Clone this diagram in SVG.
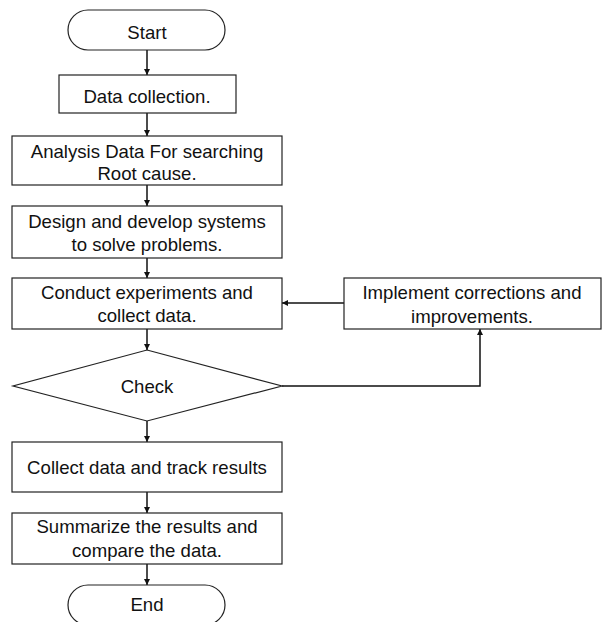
<svg xmlns="http://www.w3.org/2000/svg" width="602" height="622" viewBox="0 0 602 622">
<style>
.n{fill:#fff;stroke:#222;stroke-width:1.2}
.t{font-family:"Liberation Sans",Arial,sans-serif;font-size:18.6px;fill:#111;text-anchor:middle}
.c{fill:none;stroke:#111;stroke-width:1.5}
</style>
<defs>
<marker id="a" viewBox="0 0 10 10" refX="10" refY="5" markerWidth="6" markerHeight="6" markerUnits="userSpaceOnUse" orient="auto">
<path d="M0,0 L10,5 L0,10 z" fill="#111"/>
</marker>
</defs>
<rect width="602" height="622" fill="#fff"/>
<g id="connectors">
<line class="c" x1="147" y1="50" x2="147" y2="75" marker-end="url(#a)"/>
<line class="c" x1="147" y1="113" x2="147" y2="136" marker-end="url(#a)"/>
<line class="c" x1="147" y1="185" x2="147" y2="206" marker-end="url(#a)"/>
<line class="c" x1="147" y1="258" x2="147" y2="278" marker-end="url(#a)"/>
<line class="c" x1="147" y1="329" x2="147" y2="350" marker-end="url(#a)"/>
<line class="c" x1="147" y1="421" x2="147" y2="442" marker-end="url(#a)"/>
<line class="c" x1="147" y1="492" x2="147" y2="513" marker-end="url(#a)"/>
<line class="c" x1="147" y1="564" x2="147" y2="585" marker-end="url(#a)"/>
<line class="c" x1="344" y1="303" x2="282" y2="303" marker-end="url(#a)"/>
<polyline class="c" points="282,386 480,386 480,329" marker-end="url(#a)"/>
</g>
<g id="start">
<rect class="n" x="68" y="10" width="157" height="40" rx="20"/>
<text class="t" x="147" y="39">Start</text>
</g>
<g id="data-collection">
<rect class="n" x="59" y="75" width="177" height="38"/>
<text class="t" x="147" y="103">Data collection.</text>
</g>
<g id="analysis">
<rect class="n" x="12" y="136" width="270" height="49"/>
<text class="t" x="147" y="158">Analysis Data For searching</text>
<text class="t" x="147" y="180">Root cause.</text>
</g>
<g id="design">
<rect class="n" x="12" y="206" width="270" height="52"/>
<text class="t" x="147" y="228">Design and develop systems</text>
<text class="t" x="147" y="251">to solve problems.</text>
</g>
<g id="conduct">
<rect class="n" x="12" y="278" width="270" height="51"/>
<text class="t" x="147" y="299">Conduct experiments and</text>
<text class="t" x="147" y="322">collect data.</text>
</g>
<g id="implement">
<rect class="n" x="344" y="278" width="257" height="51"/>
<text class="t" x="472" y="299">Implement corrections and</text>
<text class="t" x="472" y="323">improvements.</text>
</g>
<g id="check">
<polygon class="n" points="147,350 282,386 147,421 13,386"/>
<text class="t" x="147" y="393">Check</text>
</g>
<g id="collect-results">
<rect class="n" x="12" y="442" width="270" height="50"/>
<text class="t" x="147" y="474">Collect data and track results</text>
</g>
<g id="summarize">
<rect class="n" x="12" y="513" width="270" height="51"/>
<text class="t" x="147" y="533">Summarize the results and</text>
<text class="t" x="147" y="557">compare the data.</text>
</g>
<g id="end">
<rect class="n" x="68" y="585" width="157" height="40" rx="20"/>
<text class="t" x="147" y="611">End</text>
</g>
</svg>
